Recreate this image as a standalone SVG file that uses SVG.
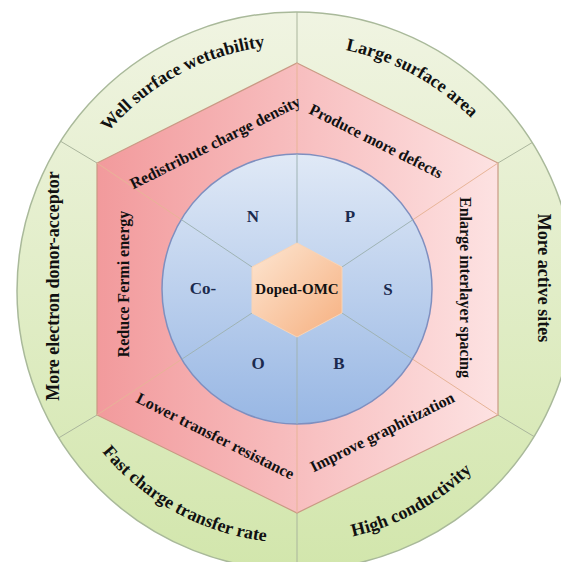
<svg xmlns="http://www.w3.org/2000/svg" width="561" height="562" viewBox="0 0 561 562">
<defs>
<linearGradient id="gGreen" x1="0" y1="0" x2="0" y2="1">
<stop offset="0" stop-color="#f0f4e2"/>
<stop offset="1" stop-color="#d2e6ac"/>
</linearGradient>
<linearGradient id="gRed" x1="0" y1="0" x2="1" y2="0">
<stop offset="0" stop-color="#f29a9c"/>
<stop offset="1" stop-color="#fde2e2"/>
</linearGradient>
<linearGradient id="gBlue" x1="0" y1="0" x2="0" y2="1">
<stop offset="0" stop-color="#e0e9f6"/>
<stop offset="1" stop-color="#98b7e4"/>
</linearGradient>
<linearGradient id="gOrange" x1="0" y1="0" x2="1" y2="1">
<stop offset="0" stop-color="#fde6d2"/>
<stop offset="1" stop-color="#f6b080"/>
</linearGradient>
<clipPath id="cOuter"><circle cx="296" cy="291" r="279"/></clipPath>
<clipPath id="cBlue"><circle cx="297" cy="289" r="135"/></clipPath>
<path id="arcTL" d="M58.4,227.3 A246,246 0 0,1 372,57"/>
<path id="arcTR" d="M220,57 A246,246 0 0,1 533.6,227.3"/>
<path id="arcBL" d="M52.5,355.8 A252,252 0 0,0 373.5,530.8"/>
<path id="arcBR" d="M219,530.9 A252,252 0 0,0 539.6,355.4"/>
</defs>
<style>
.t{font-family:"Liberation Serif","Times New Roman",serif;font-weight:bold;fill:#111;}
.g{font-size:18px;}
.r{font-size:16px;}
.el{font-size:17px;fill:#1b2a4e;}
.ln{fill:none;stroke-width:1;}
</style>
<g id="outer-ring">
<circle cx="296" cy="291" r="279" fill="url(#gGreen)" stroke="#a9b99a" stroke-width="1.5"/>
</g>
<g id="connectors">
<g clip-path="url(#cOuter)" class="ln" stroke="#aab59c">
<line x1="297" y1="63" x2="297" y2="0"/>
<line x1="498" y1="163" x2="570" y2="120"/>
<line x1="498" y1="415" x2="570" y2="458"/>
<line x1="297" y1="513" x2="297" y2="575"/>
<line x1="97" y1="415" x2="25" y2="458"/>
<line x1="97" y1="163" x2="25" y2="120"/>
</g>
</g>
<g id="middle-hexagon">
<polygon points="297,63 498,163 498,415 297,513 97,415 97,163" fill="url(#gRed)" stroke="#c99a84" stroke-width="1.2"/>
</g>
<g id="inner-lines-red" class="ln" stroke="#e7b497">
<line x1="297" y1="243" x2="297" y2="63"/>
<line x1="342" y1="267" x2="498" y2="163"/>
<line x1="342" y1="313" x2="498" y2="415"/>
<line x1="297" y1="337" x2="297" y2="513"/>
<line x1="252" y1="313" x2="97" y2="415"/>
<line x1="252" y1="267" x2="97" y2="163"/>
</g>
<g id="dopant-circle">
<circle cx="297" cy="289" r="135" fill="url(#gBlue)" stroke="#7f8fbf" stroke-width="1.5"/>
</g>
<g id="inner-lines-blue" clip-path="url(#cBlue)" class="ln" stroke="#9fb3b4">
<line x1="297" y1="243" x2="297" y2="63"/>
<line x1="342" y1="267" x2="498" y2="163"/>
<line x1="342" y1="313" x2="498" y2="415"/>
<line x1="297" y1="337" x2="297" y2="513"/>
<line x1="252" y1="313" x2="97" y2="415"/>
<line x1="252" y1="267" x2="97" y2="163"/>
</g>
<g id="core">
<polygon points="297,243 342,267 342,313 297,337 252,313 252,267" fill="url(#gOrange)" stroke="#f8d4b6" stroke-width="1"/>
<text class="t" x="297" y="294" font-size="15" text-anchor="middle" fill="#2e1c10">Doped-OMC</text>
</g>
<g id="dopants">
<text class="t el" x="253" y="222" text-anchor="middle">N</text>
<text class="t el" x="350" y="222" text-anchor="middle">P</text>
<text class="t el" x="203" y="294" text-anchor="middle">Co-</text>
<text class="t el" x="388" y="295" text-anchor="middle">S</text>
<text class="t el" x="258" y="369" text-anchor="middle">O</text>
<text class="t el" x="339" y="369" text-anchor="middle">B</text>
</g>
<g id="mechanisms">
<text class="t r" font-size="15.3" transform="translate(217.5,147.3) rotate(-26.6)" text-anchor="middle">Redistribute charge density</text>
<text class="t r" font-size="15.5" transform="translate(373.7,145.9) rotate(26.6)" text-anchor="middle">Produce more defects</text>
<text class="t r" transform="translate(460,287.5) rotate(90)" text-anchor="middle">Enlarge interlayer spacing</text>
<text class="t r" font-size="16.6" transform="translate(129,284) rotate(-90)" text-anchor="middle">Reduce Fermi energy</text>
<text class="t r" transform="translate(212.9,440.8) rotate(26.6)" text-anchor="middle">Lower transfer resistance</text>
<text class="t r" transform="translate(384.6,436.8) rotate(-26.6)" text-anchor="middle">Improve graphitization</text>
</g>
<g id="properties">
<text class="t g" font-size="17"><textPath href="#arcTL" startOffset="50%" text-anchor="middle">Well surface wettability</textPath></text>
<text class="t g"><textPath href="#arcTR" startOffset="50%" text-anchor="middle">Large surface area</textPath></text>
<text class="t g" transform="translate(538,278) rotate(90)" text-anchor="middle">More active sites</text>
<text class="t g" font-size="16" transform="translate(59,286) rotate(-90)" text-anchor="middle">More electron donor-acceptor</text>
<text class="t g"><textPath href="#arcBL" startOffset="50%" text-anchor="middle">Fast charge transfer rate</textPath></text>
<text class="t g"><textPath href="#arcBR" startOffset="50%" text-anchor="middle">High conductivity</textPath></text>
</g>
</svg>
